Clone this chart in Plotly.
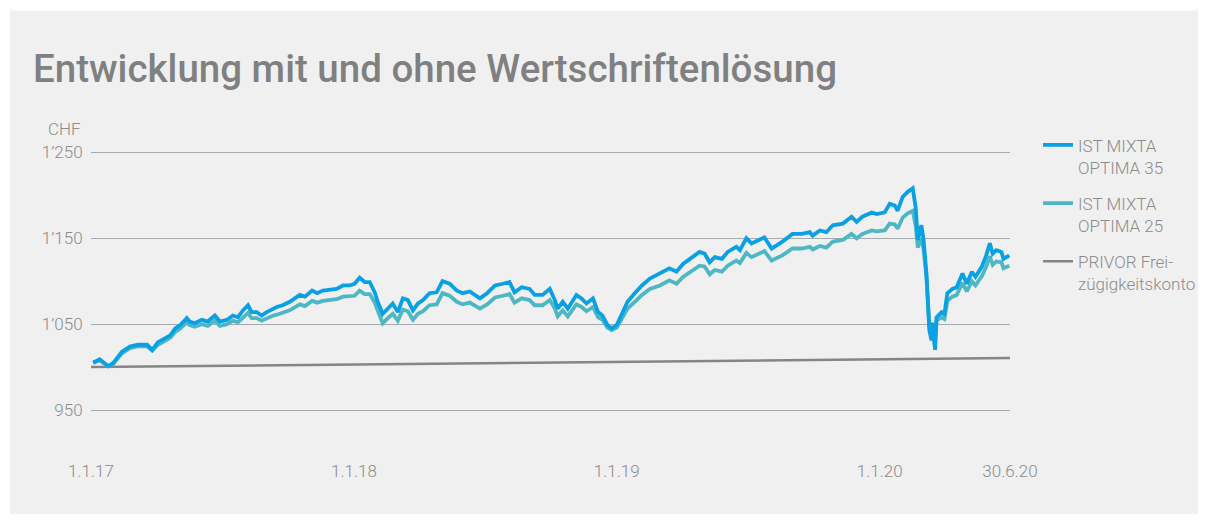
import plotly.graph_objects as go

# ---- data ----
dates = [
    "2017-01-04", "2017-01-13", "2017-01-25", "2017-02-01", "2017-02-13", "2017-02-24", "2017-03-07", "2017-03-20",
    "2017-03-27", "2017-04-04", "2017-04-21", "2017-04-28", "2017-05-05", "2017-05-14", "2017-05-18", "2017-05-25",
    "2017-06-04", "2017-06-12", "2017-06-22", "2017-06-29", "2017-07-09", "2017-07-17", "2017-07-24", "2017-07-31",
    "2017-08-07", "2017-08-12", "2017-08-19", "2017-08-26", "2017-09-02", "2017-09-11", "2017-09-16", "2017-09-24",
    "2017-10-04", "2017-10-18", "2017-10-25", "2017-11-04", "2017-11-11", "2017-11-19", "2017-11-29", "2017-12-08",
    "2017-12-17", "2017-12-26", "2018-01-02", "2018-01-09", "2018-01-16", "2018-01-23", "2018-01-30", "2018-02-03",
    "2018-02-10", "2018-02-17", "2018-02-24", "2018-03-03", "2018-03-10", "2018-03-17", "2018-03-24", "2018-03-31",
    "2018-04-07", "2018-04-16", "2018-04-26", "2018-05-04", "2018-05-14", "2018-05-24", "2018-06-01", "2018-06-11",
    "2018-06-25", "2018-07-05", "2018-07-16", "2018-07-27", "2018-08-05", "2018-08-12", "2018-08-22", "2018-09-02",
    "2018-09-09", "2018-09-20", "2018-09-30", "2018-10-07", "2018-10-11", "2018-10-18", "2018-10-25", "2018-11-06",
    "2018-11-13", "2018-11-20", "2018-11-29", "2018-12-06", "2018-12-12", "2018-12-19", "2018-12-25", "2019-01-01",
    "2019-01-09", "2019-01-16", "2019-01-26", "2019-02-05", "2019-02-16", "2019-03-02", "2019-03-15", "2019-03-25",
    "2019-04-03", "2019-04-16", "2019-04-26", "2019-05-03", "2019-05-10", "2019-05-17", "2019-05-27", "2019-06-04",
    "2019-06-16", "2019-06-21", "2019-06-30", "2019-07-07", "2019-07-16", "2019-07-25", "2019-08-04", "2019-08-12",
    "2019-08-19", "2019-09-02", "2019-09-15", "2019-09-26", "2019-09-30", "2019-10-10", "2019-10-19", "2019-10-28",
    "2019-11-11", "2019-11-23", "2019-11-30", "2019-12-08", "2019-12-21", "2019-12-28", "2020-01-08", "2020-01-15",
    "2020-01-22", "2020-01-26", "2020-02-02", "2020-02-09", "2020-02-16", "2020-02-20", "2020-02-23", "2020-02-28",
    "2020-03-02", "2020-03-06", "2020-03-08", "2020-03-10", "2020-03-13", "2020-03-14", "2020-03-18", "2020-03-20",
    "2020-03-27", "2020-03-31", "2020-04-04", "2020-04-11", "2020-04-17", "2020-04-21", "2020-04-25", "2020-05-01",
    "2020-05-08", "2020-05-13", "2020-05-22", "2020-05-28", "2020-06-02", "2020-06-06", "2020-06-11", "2020-06-18",
    "2020-06-21", "2020-06-29",
]

optima35 = [
    1005, 1009, 1001, 1005, 1018, 1024, 1026, 1026, 1020, 1029, 1037, 1045, 1049, 1057, 1053, 1051,
    1055, 1053, 1060, 1053, 1055, 1060, 1058, 1066, 1072, 1064, 1064, 1060, 1064, 1068, 1070, 1072,
    1076, 1084, 1082, 1089, 1086, 1089, 1090, 1091, 1095, 1095, 1097, 1104, 1099, 1099, 1087, 1076,
    1062, 1068, 1074, 1064, 1080, 1078, 1066, 1074, 1078, 1086, 1087, 1100, 1097, 1089, 1086, 1088,
    1080, 1086, 1095, 1097, 1099, 1087, 1093, 1091, 1084, 1084, 1091, 1078, 1068, 1076, 1068, 1084,
    1080, 1074, 1080, 1064, 1060, 1049, 1045, 1049, 1064, 1076, 1086, 1095, 1103, 1109, 1115, 1111,
    1120, 1128, 1134, 1132, 1122, 1128, 1126, 1134, 1140, 1136, 1150, 1144, 1148, 1151, 1138, 1142,
    1146, 1155, 1155, 1157, 1153, 1159, 1157, 1165, 1167, 1175, 1169, 1175, 1180, 1178, 1180, 1190,
    1188, 1182, 1198, 1204, 1208, 1186, 1148, 1165, 1148, 1109, 1070, 1043, 1031, 1051, 1020, 1058,
    1064, 1062, 1086, 1091, 1093, 1101, 1109, 1097, 1111, 1105, 1117, 1130, 1144, 1132, 1136, 1134,
    1126, 1130,
]

optima25 = [
    1005, 1008, 1001, 1004, 1016, 1022, 1024, 1024, 1019, 1026, 1034, 1041, 1045, 1052, 1049, 1047,
    1050, 1048, 1054, 1048, 1050, 1054, 1052, 1058, 1063, 1057, 1057, 1054, 1057, 1060, 1061, 1063,
    1066, 1073, 1071, 1077, 1075, 1077, 1078, 1079, 1082, 1082, 1083, 1089, 1085, 1085, 1075, 1066,
    1051, 1057, 1062, 1054, 1067, 1065, 1055, 1062, 1065, 1072, 1073, 1086, 1083, 1076, 1073, 1075,
    1068, 1073, 1081, 1083, 1085, 1075, 1080, 1078, 1072, 1072, 1078, 1068, 1059, 1066, 1059, 1073,
    1070, 1065, 1070, 1058, 1055, 1046, 1043, 1046, 1058, 1068, 1076, 1084, 1091, 1095, 1101, 1097,
    1105, 1113, 1118, 1117, 1108, 1113, 1111, 1118, 1124, 1121, 1133, 1128, 1132, 1135, 1124, 1127,
    1130, 1138, 1138, 1140, 1137, 1141, 1139, 1146, 1148, 1155, 1150, 1155, 1159, 1158, 1159, 1167,
    1166, 1161, 1174, 1179, 1182, 1165, 1139, 1150, 1137, 1104, 1072, 1048, 1038, 1052, 1028, 1054,
    1058, 1056, 1077, 1082, 1084, 1091, 1098, 1088, 1100, 1095, 1106, 1117, 1129, 1119, 1123, 1122,
    1115, 1118,
]

privor_dates = ["2017-01-01", "2018-01-01", "2019-01-01", "2020-01-01", "2020-06-30"]
privor = [1000, 1003, 1006, 1009, 1010.5]

y_tickvals = [950, 1050, 1150, 1250]
y_ticktext = ["950", "1’050", "1’150", "1’250"]
x_tickvals = ["2017-01-01", "2018-01-01", "2019-01-01", "2020-01-01", "2020-06-30"]
x_ticktext = ["1.1.17", "1.1.18", "1.1.19", "1.1.20", "30.6.20"]

names = ["IST MIXTA<br>OPTIMA 35", "IST MIXTA<br>OPTIMA 25", "PRIVOR Frei-<br>zügigkeitskonto"]

# ---- style ----
C35 = "#0aa0e4"
C25 = "#4db7c3"
CPR = "#858585"
TXT = "#8c8c8c"
FONT = "Roboto"

OFF = 8                      # default page (body) margin of the html page
W, H = 1208 - 2 * OFF, 524 - 2 * OFF   # keep the page free of scrollbars
Y0, Y1 = 900, 1255
SCALE = 301 / 350            # px per CHF
ph = (Y1 - Y0) * SCALE
plot_bottom = 453 - OFF
L = 91 - OFF
R = W - (1010 - OFF)
B = H - plot_bottom
T = plot_bottom - ph
pw = W - L - R


def px_x(sx):
    return (sx - OFF - L) / pw


def px_y(sy):
    return (plot_bottom - (sy - OFF)) / ph


fig = go.Figure()
fig.add_trace(go.Scatter(x=privor_dates, y=privor, mode="lines", name=names[2],
                         line=dict(color=CPR, width=2.5), legendrank=3, legendgroup="c"))
fig.add_trace(go.Scatter(x=dates, y=optima25, mode="lines", name=names[1],
                         line=dict(color=C25, width=3.8), legendrank=2, legendgroup="b"))
fig.add_trace(go.Scatter(x=dates, y=optima35, mode="lines", name=names[0],
                         line=dict(color=C35, width=3.8), legendrank=1, legendgroup="a"))

fig.update_layout(
    width=W, height=H,
    margin=dict(l=L, r=R, t=T, b=B, autoexpand=False),
    paper_bgcolor="white",
    plot_bgcolor="rgba(0,0,0,0)",
    font=dict(family=FONT, size=17, color=TXT, weight=300),
    title=dict(text="Entwicklung mit und ohne Wertschriftenlösung",
               x=(33 - OFF) / W, xanchor="left", xref="container",
               y=1 - (69 - OFF) / H, yanchor="middle", yref="container",
               font=dict(family=FONT, size=38.5, color="#808080", weight=500)),
    showlegend=True,
    legend=dict(x=px_x(1038), xanchor="left", y=px_y(127), yanchor="top",
                bgcolor="rgba(0,0,0,0)", font=dict(size=17, color=TXT, family=FONT, weight=300),
                valign="top", tracegroupgap=11, traceorder="grouped"),
    xaxis=dict(type="date", range=["2017-01-01", "2020-06-30"],
               tickvals=x_tickvals, ticktext=x_ticktext,
               showgrid=False, zeroline=False, showline=False,
               ticks="outside", ticklen=3, tickcolor="rgba(0,0,0,0)",
               tickfont=dict(size=17, color=TXT, family=FONT, weight=300)),
    yaxis=dict(range=[Y0, Y1], tickvals=y_tickvals, ticktext=y_ticktext,
               showgrid=True, gridcolor="#a7abb0", gridwidth=1.3,
               zeroline=False, showline=False,
               ticks="outside", ticklen=4, tickcolor="rgba(0,0,0,0)",
               tickfont=dict(size=17, color=TXT, family=FONT, weight=300)),
    shapes=[dict(type="rect", xref="paper", yref="paper",
                 x0=px_x(10), x1=px_x(1198), y0=px_y(514), y1=px_y(10),
                 fillcolor="#f0f0f0", line=dict(width=0), layer="below")],
    annotations=[dict(text="CHF", xref="paper", yref="paper",
                      x=px_x(83), xanchor="right", y=px_y(129), yanchor="middle",
                      showarrow=False, font=dict(size=17, color=TXT, family=FONT, weight=300))],
)

fig.write_html("out.html")
